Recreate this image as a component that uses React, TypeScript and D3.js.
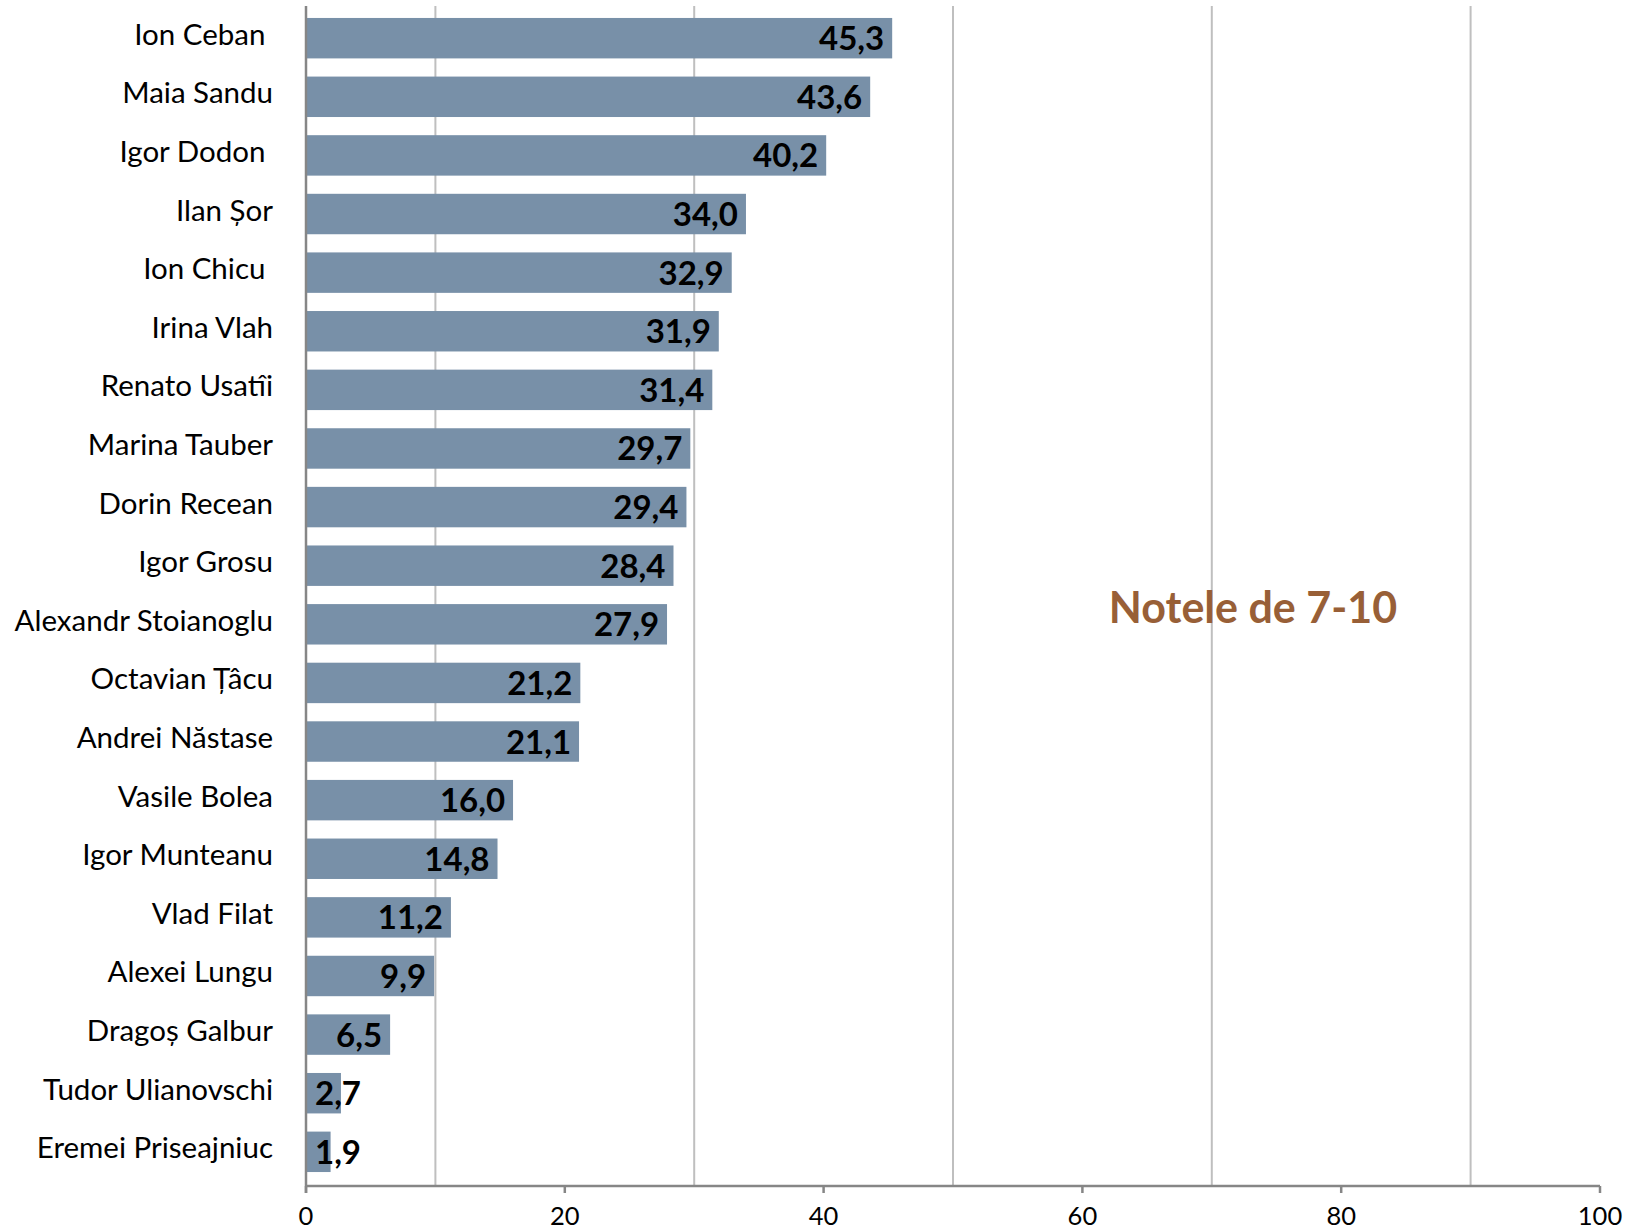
import React from 'react';
import * as d3 from 'd3';

const names = [
  'Ion Ceban ',
  'Maia Sandu',
  'Igor Dodon ',
  'Ilan Șor',
  'Ion Chicu ',
  'Irina Vlah',
  'Renato Usatîi',
  'Marina Tauber',
  'Dorin Recean',
  'Igor Grosu',
  'Alexandr Stoianoglu',
  'Octavian Țâcu',
  'Andrei Năstase',
  'Vasile Bolea',
  'Igor Munteanu',
  'Vlad Filat',
  'Alexei Lungu',
  'Dragoș Galbur',
  'Tudor Ulianovschi',
  'Eremei Priseajniuc',
];
const values = [45.3, 43.6, 40.2, 34.0, 32.9, 31.9, 31.4, 29.7, 29.4, 28.4, 27.9, 21.2, 21.1, 16.0, 14.8, 11.2, 9.9, 6.5, 2.7, 1.9];
const xTicks = [0, 20, 40, 60, 80, 100];
const gridValues = [10, 30, 50, 70, 90];
const annotation = 'Notele de 7-10';

const W = 1636;
const H = 1232;
const LEFT = 306;
const RIGHT = 1600;
const TOP = 6;
const BOTTOM = 1186;

const FONT = 'Lato, "Open Sans", sans-serif';
const VALUE_FONT_SIZE = 33;

let ctx: CanvasRenderingContext2D | null = null;
function measure(text: string, font: string): number {
  if (!ctx) ctx = document.createElement('canvas').getContext('2d');
  if (!ctx) return text.length * 16;
  ctx.font = font;
  return ctx.measureText(text).width;
}

export default function App() {
  const x = d3.scaleLinear().domain([0, 100]).range([LEFT, RIGHT]);
  const y = d3.scaleBand<string>().domain(names).range([8, 1182]).paddingInner(0.31).paddingOuter(0.17);
  const fmt = (v: number) => v.toFixed(1).replace('.', ',');

  return (
    <svg width={W} height={H} style={{ position: 'absolute', left: 0, top: 0, background: '#fff' }}>
      {gridValues.map((g) => (
        <line key={'g' + g} x1={x(g)} x2={x(g)} y1={TOP} y2={BOTTOM} stroke="#bfbfbf" strokeWidth={2} />
      ))}
      {names.map((n, i) => (
        <rect key={'b' + i} x={x(0)} y={y(n)} width={x(values[i]) - x(0)} height={y.bandwidth()} fill="#7890a8" />
      ))}
      <line x1={LEFT} x2={LEFT} y1={TOP} y2={BOTTOM + 7} stroke="#868686" strokeWidth={2.5} />
      <line x1={LEFT} x2={RIGHT} y1={BOTTOM} y2={BOTTOM} stroke="#868686" strokeWidth={2.5} />
      {xTicks.map((t) => (
        <g key={'t' + t}>
          <line x1={x(t)} x2={x(t)} y1={BOTTOM} y2={BOTTOM + 7} stroke="#868686" strokeWidth={2.5} />
          <text x={x(t)} y={1225} textAnchor="middle" fontFamily={FONT} fontSize={25.5} fill="#000">
            {t}
          </text>
        </g>
      ))}
      {names.map((n) => (
        <text
          key={'c' + n}
          x={273}
          y={(y(n) as number) + y.bandwidth() / 2 - 5}
          textAnchor="end"
          dominantBaseline="central"
          fontFamily={FONT}
          fontSize={29.5}
          fill="#000"
          style={{ whiteSpace: 'pre' }}
        >
          {n}
        </text>
      ))}
      {names.map((n, i) => {
        const label = fmt(values[i]);
        const w = measure(label, `bold ${VALUE_FONT_SIZE}px ${FONT}`);
        const xs = Math.max(x(values[i]) - 8 - w, x(0) + 9);
        return (
          <text
            key={'v' + i}
            x={xs}
            y={(y(n) as number) + y.bandwidth() / 2 - 1}
            textAnchor="start"
            dominantBaseline="central"
            fontFamily={FONT}
            fontWeight="bold"
            fontSize={VALUE_FONT_SIZE}
            fill="#000"
          >
            {label}
          </text>
        );
      })}
      <text x={1253} y={606} textAnchor="middle" dominantBaseline="central" fontFamily={FONT} fontWeight="bold" fontSize={43} fill="#985f37">
        {annotation}
      </text>
    </svg>
  );
}
